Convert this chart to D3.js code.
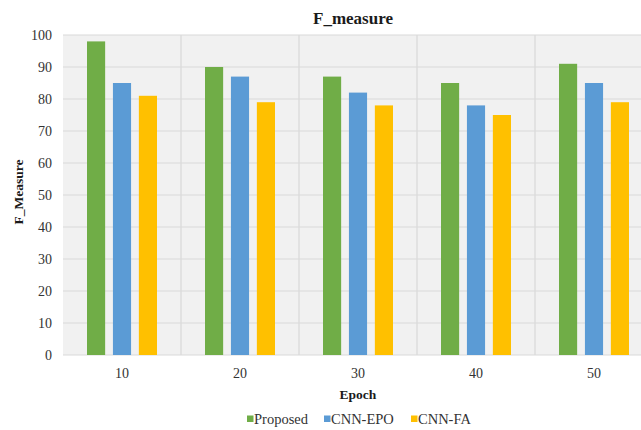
<!DOCTYPE html>
<html>
<head>
<meta charset="utf-8">
<script src="https://cdn.jsdelivr.net/npm/d3@7"></script>
<style>
  html, body { margin: 0; padding: 0; background: #ffffff; }
  svg { display: block; }
  text { font-family: "Liberation Serif", "Times New Roman", serif; }
</style>
</head>
<body>
<div id="chart"></div>
<script>
// Epoch categories and F-measure per method
const epochs = ["10", "20", "30", "40", "50"];
const seriesNames = ["Proposed", "CNN-EPO", "CNN-FA"];
const proposed = [98, 90, 87, 85, 91];
const cnnEpo = [85, 87, 82, 78, 85];
const cnnFa = [81, 79, 78, 75, 79];
const seriesColors = ["#70ad47", "#5b9bd5", "#ffc000"];
const yTicks = [0, 10, 20, 30, 40, 50, 60, 70, 80, 90, 100];

const seriesValues = [proposed, cnnEpo, cnnFa];
const data = epochs.map((e, i) => ({
  epoch: e,
  values: seriesNames.map((s, k) => ({ series: s, value: seriesValues[k][i] }))
}));

const width = 641, height = 430;
const margin = { left: 63, top: 35, right: -12, bottom: 75 };
const serif = "'Liberation Serif', 'Times New Roman', serif";

const svg = d3.select("#chart").append("svg")
  .attr("width", width).attr("height", height);

const x = d3.scaleBand()
  .domain(epochs)
  .range([margin.left, width - margin.right])
  .paddingInner(0).paddingOuter(0);

const y = d3.scaleLinear()
  .domain([0, 100])
  .range([height - margin.bottom, margin.top]);

// inner band for the three bars of each group
const xInner = d3.scaleBand()
  .domain(seriesNames)
  .range([0, 70])
  .paddingInner(0.3);

// plot background
svg.append("rect")
  .attr("x", x.range()[0]).attr("y", y(100))
  .attr("width", x.range()[1] - x.range()[0])
  .attr("height", y(0) - y(100))
  .attr("fill", "#f1f1f1");

// horizontal gridlines
svg.append("g").selectAll("line")
  .data(yTicks)
  .join("line")
  .attr("x1", x.range()[0]).attr("x2", x.range()[1])
  .attr("y1", d => y(d)).attr("y2", d => y(d))
  .attr("stroke", "#d9d9d9").attr("stroke-width", 1.2);

// vertical category separators
svg.append("g").selectAll("line")
  .data(epochs.slice(1))
  .join("line")
  .attr("x1", d => x(d)).attr("x2", d => x(d))
  .attr("y1", y(100)).attr("y2", y(0))
  .attr("stroke", "#d9d9d9").attr("stroke-width", 1.2);

// bars
const groups = svg.append("g").selectAll("g")
  .data(data)
  .join("g")
  .attr("transform", d => `translate(${x(d.epoch) + (x.bandwidth() - 70) / 2},0)`);

groups.selectAll("rect")
  .data(d => d.values)
  .join("rect")
  .attr("x", d => xInner(d.series))
  .attr("y", d => y(d.value))
  .attr("width", xInner.bandwidth())
  .attr("height", d => y(0) - y(d.value))
  .attr("fill", (d, i) => seriesColors[i]);

// y axis
const yAxis = svg.append("g")
  .attr("transform", `translate(${margin.left},0)`)
  .call(d3.axisLeft(y).tickValues(yTicks).tickSize(0).tickPadding(11))
  .attr("font-family", serif).attr("font-size", 14);
yAxis.select(".domain").remove();
yAxis.selectAll("text").attr("fill", "#333333");

// x axis
const xAxis = svg.append("g")
  .attr("transform", `translate(0,${y(0)})`)
  .call(d3.axisBottom(x).tickSize(0).tickPadding(13))
  .attr("font-family", serif).attr("font-size", 14);
xAxis.select(".domain").remove();
xAxis.selectAll("text").attr("fill", "#333333");

// title
svg.append("text")
  .attr("x", 353).attr("y", 24)
  .attr("text-anchor", "middle")
  .attr("font-size", 17).attr("font-weight", "bold").attr("fill", "#1a1a1a")
  .text("F_measure");

// axis titles
svg.append("text")
  .attr("transform", "translate(23,192) rotate(-90)")
  .attr("text-anchor", "middle")
  .attr("font-size", 13.5).attr("font-weight", "bold").attr("fill", "#1a1a1a")
  .text("F_Measure");

svg.append("text")
  .attr("x", 358).attr("y", 399)
  .attr("text-anchor", "middle")
  .attr("font-size", 13.5).attr("font-weight", "bold").attr("fill", "#1a1a1a")
  .text("Epoch");

// legend
const legendX = [247, 324, 411];
const legend = svg.append("g").selectAll("g")
  .data(seriesNames)
  .join("g")
  .attr("transform", (d, i) => `translate(${legendX[i]},419)`);
legend.append("rect")
  .attr("x", 0).attr("y", -3.5).attr("width", 6.5).attr("height", 6.5)
  .attr("fill", (d, i) => seriesColors[i]);
legend.append("text")
  .attr("x", 7).attr("y", 5)
  .attr("font-size", 14.5).attr("fill", "#333333")
  .text(d => d);
</script>
</body>
</html>
